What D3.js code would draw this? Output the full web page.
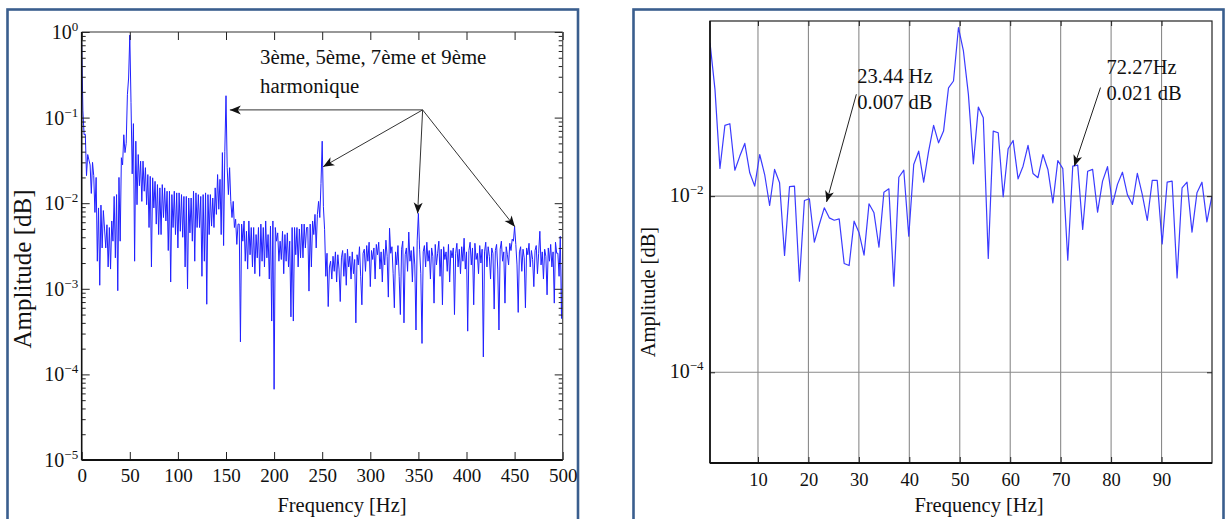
<!DOCTYPE html>
<html><head><meta charset="utf-8">
<script src="https://cdn.jsdelivr.net/npm/d3@7"></script>
<style>
body{margin:0;background:#fff}
svg{display:block}
text{font-family:"Liberation Serif","Times New Roman",serif;fill:#111}
</style>
</head><body><svg id="c" width="1226" height="519"></svg>
<script>
// ---------------- DATA ----------------
// Left panel: full spectrum 0..500 Hz, one value per 1.25 Hz bin
const leftStepHz = 1.25;
const leftAmplitude = [
0.75,0.12,0.063,0.064,0.021,0.037,0.032,0.028,0.013,0.03,
0.021,0.0078,0.02,0.0021,0.0088,0.0011,0.0095,0.003,0.0082,0.005,
0.003,0.0056,0.0018,0.0052,0.0017,0.0062,0.0036,0.012,0.0023,0.0126,
0.00095,0.02,0.0036,0.034,0.028,0.063,0.039,0.05,0.185,0.29,
0.92,
0.15,0.022,0.085,0.0021,0.053,0.0096,0.037,0.016,0.031,0.0105,
0.031,0.0138,0.026,0.0096,0.0216,0.0052,0.0206,0.0018,0.0198,0.0088,
0.018,0.0057,0.0165,0.0043,0.0151,0.0043,0.0165,0.0068,0.0151,0.0062,
0.0138,0.0028,0.0138,0.0012,0.0126,0.0052,0.0138,0.0043,0.0132,0.003,
0.0132,0.0047,0.0126,0.004,0.012,0.0018,0.012,0.001,0.0115,0.0045,
0.0115,0.0036,0.0138,0.0021,0.0132,0.0052,0.0126,0.0052,0.012,0.0014,
0.0126,0.0021,0.0132,0.00066,0.0126,0.0043,0.0126,0.0054,0.0115,0.0052,
0.0151,0.0074,0.0216,0.0085,0.019,0.0043,0.039,0.0032,0.04,0.18,
0.026,0.0126,0.026,0.0105,0.0068,0.0105,0.0052,0.0065,0.0033,0.0057,
0.0057,0.00024,0.0057,0.0036,0.0062,0.0021,0.0047,0.0017,0.0062,0.0025,
0.0052,0.0018,0.0052,0.0015,0.0043,0.0023,0.0052,0.0014,0.0057,0.0021,
0.0052,0.0018,0.0062,0.0023,0.0043,0.0013,0.0054,0.00042,0.0062,0.000067,
0.0052,0.0036,0.0045,0.0021,0.0036,0.0022,0.0047,0.0015,0.0043,0.0021,
0.0045,0.0018,0.0036,0.00047,0.0052,0.00042,0.0052,0.0025,0.0052,0.0018,
0.005,0.0023,0.0057,0.0023,0.0057,0.003,0.0052,0.0052,0.00094,0.0057,
0.0018,0.0062,0.0043,0.0074,0.003,0.0074,0.0105,0.0068,0.017,0.053,
0.0091,0.0049,0.0014,0.0026,0.00062,0.0018,0.0021,0.0013,0.0024,0.0016,
0.0027,0.0012,0.0025,0.0017,0.00071,0.0023,0.0028,0.0014,0.0026,0.0011,
0.0029,0.0018,0.0024,0.0013,0.0027,0.0015,0.0022,0.0004,0.0025,0.0019,
0.0031,0.0014,0.00065,0.0026,0.0029,0.0016,0.0032,0.0021,0.0035,0.00106,
0.0028,0.0022,0.003,0.0013,0.0033,0.0025,0.0035,0.0017,0.0027,0.0012,
0.0029,0.0019,0.0037,0.0024,0.0008,0.0051,0.0026,0.0031,0.0015,0.0006,
0.0027,0.0019,0.0032,0.0014,0.0005,0.0029,0.0036,0.0004,0.0025,0.003,
0.0016,0.0046,0.0021,0.0028,0.0012,0.0031,0.0019,0.00033,0.0037,0.0076,
0.0029,0.0015,0.00023,0.0027,0.0032,0.0018,0.0035,0.0021,0.0028,0.0013,
0.003,0.0024,0.00068,0.0033,0.0019,0.0026,0.0036,0.0014,0.0029,0.00065,
0.0031,0.0022,0.0027,0.0016,0.0033,0.0012,0.0028,0.0023,0.003,0.0005,
0.0026,0.0034,0.0018,0.0029,0.0015,0.0031,0.0021,0.0039,0.0017,0.0027,
0.00032,0.0028,0.0035,0.0019,0.003,0.00065,0.0034,0.0022,0.0026,0.0015,
0.0032,0.002,0.0029,0.00016,0.0027,0.0035,0.0018,0.0031,0.0024,0.0013,
0.003,0.0026,0.00058,0.0028,0.0033,0.0017,0.00033,0.0029,0.0036,0.0021,
0.0027,0.00068,0.0031,0.0025,0.0019,0.0034,0.0028,0.0038,0.0036,0.0053,
0.0033,0.0019,0.00053,0.0027,0.0031,0.0016,0.0029,0.0023,0.0006,0.003,
0.0025,0.0034,0.0018,0.0028,0.0022,0.00106,0.0028,0.0032,0.0015,0.0026,
0.0047,0.0019,0.0027,0.0013,0.0029,0.0024,0.00085,0.003,0.0021,0.0033,
0.0018,0.0027,0.00068,0.0035,0.0026,0.0026,0.0014,0.0041,0.00045,0.0028
];
// Right panel: zoom 0..100 Hz
const rightStartHz = 0.49;
const rightStepHz = 0.985;
const rightAmplitude = [
0.552,0.163,0.0206,0.0635,0.0664,0.0197,0.0285,0.0397,0.0184,0.013,
0.0297,0.0176,0.00783,0.0201,0.0142,0.00212,0.0128,0.013,0.00108,0.00893,
0.00933,0.003,0.00476,0.00737,0.00567,0.00533,0.00552,0.00172,0.00163,0.0052,
0.00383,0.00214,0.00818,0.00647,0.00263,0.0111,0.0121,0.00095,0.0164,0.0197,
0.00351,0.0229,0.0324,0.0144,0.0324,0.0635,0.0403,0.0548,0.17,0.203,
0.818,
0.445,0.143,0.0233,0.1026,0.0776,0.00196,0.0548,0.0525,0.00983,0.0345,
0.0429,0.0157,0.0219,0.0377,0.0181,0.0162,0.0297,0.0201,0.0084,0.0254,
0.0205,0.00187,0.0219,0.0225,0.00418,0.0192,0.0201,0.00658,0.0148,0.0216,
0.00804,0.0136,0.0187,0.0104,0.00804,0.0181,0.0104,0.00529,0.0151,0.0151,
0.00287,0.0144,0.0148,0.00118,0.0124,0.0144,0.0039,0.0109,0.0144,0.0051,
0.01
];
const leftXTicks = [0,50,100,150,200,250,300,350,400,450,500];
const leftYTicks = [1,1e-1,1e-2,1e-3,1e-4,1e-5];
const leftYExp = ["0","\u22121","\u22122","\u22123","\u22124","\u22125"];
const rightXTicks = [10,20,30,40,50,60,70,80,90];
const rightYTicks = [1e-2,1e-4];
const rightYExp = ["\u22122","\u22124"];
const xTitle = "Frequency [Hz]";
const yTitle = "Amplitude [dB]";
const harmonicText = ["3ème, 5ème, 7ème et 9ème","harmonique"];
const harmonicHub = [354.4, 0.123];
const harmonicTips = [[154,0.123],[251,0.0267],[349.2,0.0076],[450.3,0.0053]];
const rightNotes = [
  {lines:["23.44 Hz","0.007 dB"], text:[29.7,0.194,0.0964], tail:[29.5,0.1435], tip:[23.6,0.0086]},
  {lines:["72.27Hz","0.021 dB"], text:[79.1,0.246,0.122], tail:[77.9,0.171], tip:[72.7,0.0219]}
];

// ---------------- DRAW ----------------
const svg = d3.select("#c");
const blue = "#2020ff";
const frameColor = "#3a5e8e";

svg.append("rect").attr("x",7.5).attr("y",9.5).attr("width",570.5).attr("height",530)
  .attr("fill","none").attr("stroke",frameColor).attr("stroke-width",2.6);
svg.append("rect").attr("x",633.5).attr("y",9.5).attr("width",590).attr("height",530)
  .attr("fill","none").attr("stroke",frameColor).attr("stroke-width",2.6);

const defs = svg.append("defs");
defs.append("marker").attr("id","arr").attr("viewBox","-12 -6 13 12")
  .attr("refX",0).attr("refY",0).attr("markerWidth",13).attr("markerHeight",12)
  .attr("markerUnits","userSpaceOnUse").attr("orient","auto")
  .append("path").attr("d","M0,0 L-11,-4.5 L-8,0 L-11,4.5 Z").attr("fill","#111");

function supLabel(g, x, y, exp, fs, efs, anchor){
  const t = g.append("text").attr("x",x).attr("y",y).attr("text-anchor",anchor||"end")
    .style("font-size",fs+"px");
  t.append("tspan").text("10");
  t.append("tspan").attr("dy",-Math.round(fs*0.42)).style("font-size",efs+"px").text(exp);
}

// ===== LEFT PANEL =====
const L = {x0:81.7, x1:562.7, y0:32, y1:460};
const xL = d3.scaleLinear().domain([0,500]).range([L.x0,L.x1]);
const yL = d3.scaleLog().domain([1e-5,1]).range([L.y1,L.y0]);
const gL = svg.append("g");
defs.append("clipPath").attr("id","clipL").append("rect")
  .attr("x",L.x0).attr("y",L.y0-2).attr("width",L.x1-L.x0).attr("height",L.y1-L.y0+2);

const leftPts = leftAmplitude.map((v,i)=>[i*leftStepHz, v]);
gL.append("path").datum(leftPts).attr("clip-path","url(#clipL)")
  .attr("d", d3.line().x(d=>xL(d[0])).y(d=>yL(d[1])))
  .attr("fill","none").attr("stroke",blue).attr("stroke-width",1).attr("stroke-linejoin","round");

const minorL = [];
for(let e=-5;e<0;e++) for(let m=2;m<=9;m++) minorL.push(m*Math.pow(10,e));
function styleAxis(g){ g.select(".domain").remove(); g.selectAll(".tick line").attr("stroke","#222").attr("stroke-width",1); }
gL.append("g").attr("transform",`translate(${L.x0},0)`).call(d3.axisLeft(yL).tickValues(leftYTicks).tickSizeInner(-8).tickSizeOuter(0).tickFormat("")).call(styleAxis);
gL.append("g").attr("transform",`translate(${L.x0},0)`).call(d3.axisLeft(yL).tickValues(minorL).tickSizeInner(-4).tickSizeOuter(0).tickFormat("")).call(styleAxis);
gL.append("g").attr("transform",`translate(${L.x1},0)`).call(d3.axisRight(yL).tickValues(leftYTicks).tickSizeInner(-8).tickSizeOuter(0).tickFormat("")).call(styleAxis);
gL.append("g").attr("transform",`translate(${L.x1},0)`).call(d3.axisRight(yL).tickValues(minorL).tickSizeInner(-4).tickSizeOuter(0).tickFormat("")).call(styleAxis);
const axBL = gL.append("g").attr("transform",`translate(0,${L.y1})`)
  .call(d3.axisBottom(xL).tickValues(leftXTicks).tickSizeInner(-8).tickSizeOuter(0).tickPadding(9))
  .call(styleAxis);
axBL.selectAll("text").style("font-size","19px").style("font-family",'"Liberation Serif",serif').attr("fill","#111");
gL.append("g").attr("transform",`translate(0,${L.y0})`)
  .call(d3.axisTop(xL).tickValues(leftXTicks).tickSizeInner(-8).tickSizeOuter(0).tickFormat("")).call(styleAxis);
gL.append("line").attr("x1",L.x0).attr("x2",L.x1).attr("y1",L.y0).attr("y2",L.y0).attr("stroke","#333").attr("stroke-width",1.2);
gL.append("line").attr("x1",L.x1).attr("x2",L.x1).attr("y1",L.y0).attr("y2",L.y1).attr("stroke","#444").attr("stroke-width",1.2);
gL.append("line").attr("x1",L.x0).attr("x2",L.x0).attr("y1",L.y0).attr("y2",L.y1).attr("stroke","#111").attr("stroke-width",1.6);
gL.append("line").attr("x1",L.x0).attr("x2",L.x1).attr("y1",L.y1).attr("y2",L.y1).attr("stroke","#111").attr("stroke-width",1.8);
leftYTicks.forEach((t,i)=> supLabel(gL, L.x0-3.5, yL(t)+7, leftYExp[i], 20, 13));
gL.append("text").attr("x",342).attr("y",512).attr("text-anchor","middle").style("font-size","20.5px").text(xTitle);
gL.append("text").attr("transform",`translate(31,269) rotate(-90)`).attr("text-anchor","middle").style("font-size","25px").text(yTitle);
const hub = [xL(harmonicHub[0]), yL(harmonicHub[1])];
harmonicTips.forEach(t=>{
  gL.append("line").attr("x1",hub[0]).attr("y1",hub[1]).attr("x2",xL(t[0])).attr("y2",yL(t[1]))
    .attr("stroke","#333").attr("stroke-width",1).attr("marker-end","url(#arr)");
});
harmonicText.forEach((s,i)=>{
  gL.append("text").attr("x",260).attr("y",64+i*29).style("font-size","20.8px").text(s);
});

// ===== RIGHT PANEL =====
const R = {x0:710, x1:1212, y0:21, y1:463};
const xR = d3.scaleLinear().domain([rightStartHz,100]).range([R.x0,R.x1]);
const yR = d3.scaleLog().domain([Math.pow(10,-5.03),1]).range([R.y1,20]);
const gR = svg.append("g");
gR.selectAll(".vg").data(rightXTicks).enter().append("line")
  .attr("x1",d=>xR(d)).attr("x2",d=>xR(d)).attr("y1",R.y0).attr("y2",R.y1)
  .attr("stroke","#8a8a8a").attr("stroke-width",1.1);
gR.selectAll(".hg").data(rightYTicks).enter().append("line")
  .attr("x1",R.x0).attr("x2",R.x1).attr("y1",d=>yR(d)).attr("y2",d=>yR(d))
  .attr("stroke","#8a8a8a").attr("stroke-width",1.1);
defs.append("clipPath").attr("id","clipR").append("rect")
  .attr("x",R.x0).attr("y",R.y0).attr("width",R.x1-R.x0).attr("height",R.y1-R.y0);
const rightPts = rightAmplitude.map((v,i)=>[rightStartHz+i*rightStepHz, v]);
gR.append("path").datum(rightPts).attr("clip-path","url(#clipR)")
  .attr("d", d3.line().x(d=>xR(d[0])).y(d=>yR(d[1])))
  .attr("fill","none").attr("stroke","#3b3bff").attr("stroke-width",1.2).attr("stroke-linejoin","round");
const axBR = gR.append("g").attr("transform",`translate(0,${R.y1})`)
  .call(d3.axisBottom(xR).tickValues(rightXTicks).tickSizeInner(-6).tickSizeOuter(0).tickPadding(10))
  .call(styleAxis);
axBR.selectAll("text").style("font-size","18.5px").style("font-family",'"Liberation Serif",serif').attr("fill","#111");
gR.append("g").attr("transform",`translate(0,${R.y0})`)
  .call(d3.axisTop(xR).tickValues(rightXTicks).tickSizeInner(-5).tickSizeOuter(0).tickFormat("")).call(styleAxis);
gR.append("g").attr("transform",`translate(${R.x0},0)`)
  .call(d3.axisLeft(yR).tickValues(rightYTicks).tickSizeInner(-5).tickSizeOuter(0).tickFormat("")).call(styleAxis);
gR.append("g").attr("transform",`translate(${R.x1},0)`)
  .call(d3.axisRight(yR).tickValues(rightYTicks).tickSizeInner(-5).tickSizeOuter(0).tickFormat("")).call(styleAxis);
gR.append("rect").attr("x",R.x0).attr("y",R.y0).attr("width",R.x1-R.x0).attr("height",R.y1-R.y0)
  .attr("fill","none").attr("stroke","#222").attr("stroke-width",1.2);
gR.append("line").attr("x1",R.x0).attr("x2",R.x1).attr("y1",R.y1).attr("y2",R.y1).attr("stroke","#111").attr("stroke-width",2);
gR.append("line").attr("x1",R.x0).attr("x2",R.x0).attr("y1",R.y0).attr("y2",R.y1).attr("stroke","#111").attr("stroke-width",1.6);
rightYTicks.forEach((t,i)=> supLabel(gR, R.x0-6.5, yR(t)+6, rightYExp[i], 20, 13));
gR.append("text").attr("x",979).attr("y",512).attr("text-anchor","middle").style("font-size","20.5px").text(xTitle);
gR.append("text").attr("transform",`translate(655,292) rotate(-90)`).attr("text-anchor","middle").style("font-size","20.5px").text(yTitle);
rightNotes.forEach(n=>{
  gR.append("line").attr("x1",xR(n.tail[0])).attr("y1",yR(n.tail[1])).attr("x2",xR(n.tip[0])).attr("y2",yR(n.tip[1]))
    .attr("stroke","#222").attr("stroke-width",1).attr("marker-end","url(#arr)");
  n.lines.forEach((s,i)=>{
    gR.append("text").attr("x",xR(n.text[0])).attr("y",yR(n.text[1+i])).style("font-size","20.5px").text(s);
  });
});
</script>
</body></html>
